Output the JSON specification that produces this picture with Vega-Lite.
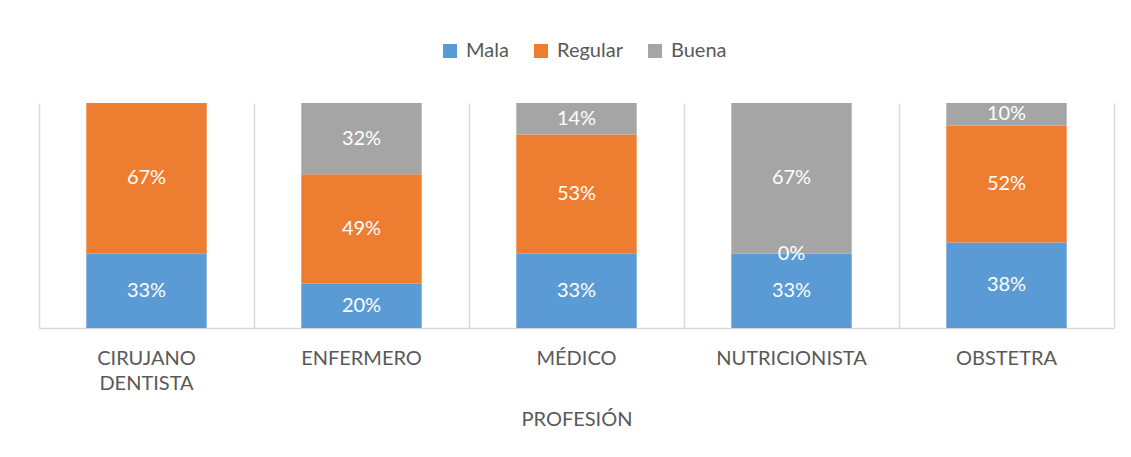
{
  "$schema": "https://vega.github.io/schema/vega-lite/v6.json",
  "width": 1075,
  "height": 225,
  "autosize": {"type": "none"},
  "padding": {"left": 39, "top": 103, "right": 17, "bottom": 129},
  "background": "white",
  "config": {
    "view": {"stroke": null},
    "font": "Lato",
    "axis": {"labelFont": "Lato", "titleFont": "Lato"},
    "legend": {"labelFont": "Lato"}
  },
  "data": {
    "values": [
      {"profesion": "CIRUJANO DENTISTA", "serie": "Mala", "valor": 0.33},
      {"profesion": "CIRUJANO DENTISTA", "serie": "Regular", "valor": 0.67},
      {"profesion": "ENFERMERO", "serie": "Mala", "valor": 0.20},
      {"profesion": "ENFERMERO", "serie": "Regular", "valor": 0.49},
      {"profesion": "ENFERMERO", "serie": "Buena", "valor": 0.32},
      {"profesion": "MÉDICO", "serie": "Mala", "valor": 0.33},
      {"profesion": "MÉDICO", "serie": "Regular", "valor": 0.53},
      {"profesion": "MÉDICO", "serie": "Buena", "valor": 0.14},
      {"profesion": "NUTRICIONISTA", "serie": "Mala", "valor": 0.33},
      {"profesion": "NUTRICIONISTA", "serie": "Regular", "valor": 0.0},
      {"profesion": "NUTRICIONISTA", "serie": "Buena", "valor": 0.67},
      {"profesion": "OBSTETRA", "serie": "Mala", "valor": 0.38},
      {"profesion": "OBSTETRA", "serie": "Regular", "valor": 0.52},
      {"profesion": "OBSTETRA", "serie": "Buena", "valor": 0.10}
    ]
  },
  "transform": [
    {"calculate": "indexof(['Mala','Regular','Buena'], datum.serie)", "as": "orden"}
  ],
  "encoding": {
    "x": {
      "field": "profesion",
      "type": "nominal",
      "sort": null,
      "scale": {"paddingInner": 0, "paddingOuter": 0},
      "axis": {
        "title": "PROFESIÓN",
        "titleFontSize": 20,
        "titleFontWeight": "normal",
        "titleColor": "#595959",
        "titlePadding": 16,
        "labelAngle": 0,
        "labelFontSize": 20,
        "labelColor": "#595959",
        "labelPadding": 20,
        "labelLineHeight": 25,
        "labelExpr": "datum.value == 'CIRUJANO DENTISTA' ? ['CIRUJANO', 'DENTISTA'] : datum.value",
        "ticks": false,
        "tickSize": 0,
        "bandPosition": 0,
        "grid": true,
        "gridColor": "#D9D9D9",
        "gridWidth": 1.5,
        "domainColor": "#D9D9D9",
        "domainWidth": 1.5
      }
    }
  },
  "layer": [
    {
      "mark": {"type": "bar", "width": {"band": 0.56}},
      "encoding": {
        "y": {
          "field": "valor",
          "type": "quantitative",
          "stack": "normalize",
          "axis": {"orient": "right", "title": null, "labels": false, "ticks": false, "grid": false, "domainColor": "#D9D9D9", "domainWidth": 1.5}
        },
        "color": {
          "field": "serie",
          "type": "nominal",
          "scale": {"domain": ["Mala", "Regular", "Buena"], "range": ["#5B9BD5", "#ED7D31", "#A5A5A5"]},
          "legend": {
            "title": null,
            "orient": "none",
            "legendX": 401,
            "legendY": -62,
            "direction": "horizontal",
            "symbolType": "square",
            "symbolSize": 196,
            "symbolStrokeWidth": 0,
            "labelFontSize": 20,
            "labelColor": "#595959",
            "labelOffset": 6,
            "columnPadding": 22
          }
        },
        "order": {"field": "orden", "type": "quantitative"}
      }
    },
    {
      "mark": {"type": "text", "color": "white", "fontSize": 20, "baseline": "middle", "align": "center"},
      "encoding": {
        "y": {"field": "valor", "type": "quantitative", "stack": "normalize", "bandPosition": 0.5},
        "text": {"field": "valor", "type": "quantitative", "format": ".0%"},
        "order": {"field": "orden", "type": "quantitative"}
      }
    }
  ]
}
